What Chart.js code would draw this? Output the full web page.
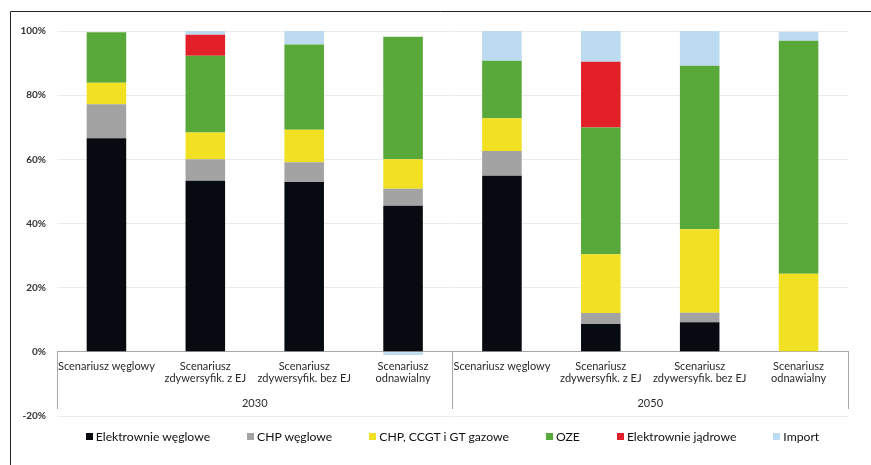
<!DOCTYPE html>
<html>
<head>
<meta charset="utf-8">
<script src="https://cdn.jsdelivr.net/npm/chart.js@4/dist/chart.umd.min.js"></script>
<style>
  html, body { margin: 0; padding: 0; background: #fff; }
  #wrap { position: relative; width: 871px; height: 465px; overflow: hidden; }
  #chart { position: absolute; left: 0; top: 0; }
  #legend {
    position: absolute; left: 57px; width: 791px; top: 429px;
    display: flex; justify-content: center; gap: 37px;
    font: 12.2px Lato, sans-serif; color: #111;
  }
  #legend .item { display: flex; align-items: center; white-space: nowrap; }
  #legend .box { width: 7px; height: 7px; margin-right: 3px; }
</style>
</head>
<body>
<div id="wrap">
  <canvas id="chart" width="871" height="465"></canvas>
  <div id="legend"></div>
</div>
<script>
// Scenario categories (two horizons of four scenarios each)
const categories = [
  'Scenariusz węglowy',
  ['Scenariusz', 'zdywersyfik. z EJ'],
  ['Scenariusz', 'zdywersyfik. bez EJ'],
  ['Scenariusz', 'odnawialny'],
  'Scenariusz węglowy',
  ['Scenariusz', 'zdywersyfik. z EJ'],
  ['Scenariusz', 'zdywersyfik. bez EJ'],
  ['Scenariusz', 'odnawialny']
];
const years = ['2030', '2050'];

// Share of electricity production by source, %
const elektrownieWeglowe = [66.6, 53.3, 52.9, 45.5, 54.9, 8.7, 9.2, 0];
const chpWeglowe         = [10.6, 6.7, 6.2, 5.3, 7.7, 3.4, 3.0, 0];
const chpGazowe          = [6.7, 8.4, 10.1, 9.2, 10.2, 18.3, 26.0, 24.3];
const oze                = [15.7, 23.9, 26.6, 38.2, 17.9, 39.5, 51.0, 72.7];
const elektrownieJadrowe = [0, 6.5, 0, 0, 0, 20.5, 0, 0];
const importEnergii      = [0, 1.2, 4.2, -1.0, 9.3, 9.6, 10.8, 2.8];

const yTicks = [-20, 0, 20, 40, 60, 80, 100];

const series = [
  { label: 'Elektrownie węglowe',   data: elektrownieWeglowe, color: '#070a10' },
  { label: 'CHP węglowe',           data: chpWeglowe,         color: '#a3a3a3' },
  { label: 'CHP, CCGT i GT gazowe', data: chpGazowe,          color: '#f2e122' },
  { label: 'OZE',                   data: oze,                color: '#58a83a' },
  { label: 'Elektrownie jądrowe',   data: elektrownieJadrowe, color: '#e3202a' },
  { label: 'Import',                data: importEnergii,      color: '#bcdaf0' }
];

const FONT = 'Lato, sans-serif';

// Frame around the figure (top and left edges) and white background
const framePlugin = {
  id: 'frame',
  beforeDraw(chart) {
    const ctx = chart.ctx;
    ctx.save();
    ctx.fillStyle = '#fff';
    ctx.fillRect(0, 0, chart.width, chart.height);
    ctx.strokeStyle = '#222';
    ctx.lineWidth = 1;
    ctx.beginPath();
    ctx.moveTo(10.5, chart.height);
    ctx.lineTo(10.5, 11.5);
    ctx.lineTo(chart.width, 11.5);
    ctx.stroke();
    ctx.restore();
  }
};

// HTML legend built from the datasets
const htmlLegend = {
  id: 'htmlLegend',
  afterUpdate(chart) {
    const el = document.getElementById('legend');
    el.innerHTML = '';
    chart.data.datasets.forEach(ds => {
      const item = document.createElement('div');
      item.className = 'item';
      const box = document.createElement('span');
      box.className = 'box';
      box.style.background = ds.backgroundColor;
      const txt = document.createElement('span');
      txt.textContent = ds.label;
      item.appendChild(box);
      item.appendChild(txt);
      el.appendChild(item);
    });
  }
};

new Chart(document.getElementById('chart'), {
  type: 'bar',
  data: {
    labels: categories,
    datasets: series.map(s => ({
      label: s.label,
      data: s.data,
      backgroundColor: s.color,
      borderWidth: 0,
      categoryPercentage: 1,
      barPercentage: 0.4
    }))
  },
  options: {
    responsive: false,
    animation: false,
    layout: { padding: { left: 0, right: 23, top: 31, bottom: 49 } },
    plugins: {
      legend: { display: false },
      tooltip: { enabled: false }
    },
    scales: {
      x: {
        stacked: true,
        position: { y: 0 },
        grid: { display: false },
        border: { display: true, color: '#a8a8a8', width: 1 },
        ticks: {
          padding: 0,
          maxRotation: 0,
          autoSkip: false,
          color: '#2a2a2a',
          font: { family: FONT, size: 11, lineHeight: 1.15 }
        }
      },
      x2: {
        type: 'category',
        labels: years,
        offset: true,
        position: { y: 0 },
        grid: {
          offset: true,
          drawOnChartArea: false,
          drawTicks: true,
          tickLength: 57,
          color: '#a8a8a8',
          lineWidth: 1
        },
        border: { display: true, color: '#a8a8a8', width: 1 },
        ticks: {
          padding: -12,
          color: '#2a2a2a',
          font: { family: FONT, size: 11 }
        }
      },
      y: {
        stacked: true,
        min: -20,
        max: 100,
        afterBuildTicks(scale) {
          scale.ticks = yTicks.map(v => ({ value: v }));
        },
        afterFit(scale) { scale.width = 57; },
        grid: { color: '#ebebeb', lineWidth: 1, drawTicks: false },
        border: { display: false },
        ticks: {
          padding: 11,
          color: '#333',
          font: { family: FONT, size: 10, weight: 'bold' },
          callback: v => v + '%'
        }
      }
    }
  },
  plugins: [framePlugin, htmlLegend]
});
</script>
</body>
</html>
